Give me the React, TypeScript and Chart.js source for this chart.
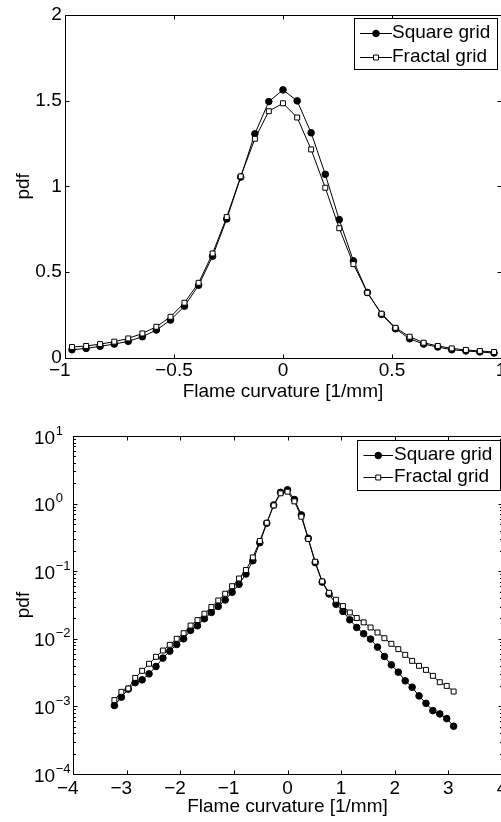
import React, { useEffect, useRef } from 'react';
import { Chart, registerables } from 'chart.js';

Chart.register(...registerables);

// ---------- data ----------
const seriesNames = ['Square grid', 'Fractal grid'];

const topCurvature = [-0.968, -0.903, -0.839, -0.774, -0.71, -0.645, -0.581, -0.516, -0.452, -0.387, -0.323, -0.258, -0.194, -0.129, -0.065, 0, 0.065, 0.129, 0.194, 0.258, 0.323, 0.387, 0.452, 0.516, 0.581, 0.645, 0.71, 0.774, 0.839, 0.903, 0.968];
const topSquare = [0.048, 0.056, 0.068, 0.081, 0.097, 0.124, 0.163, 0.221, 0.302, 0.424, 0.593, 0.81, 1.054, 1.306, 1.494, 1.562, 1.498, 1.312, 1.07, 0.806, 0.566, 0.382, 0.254, 0.17, 0.112, 0.081, 0.064, 0.048, 0.041, 0.035, 0.029];
const topFractal = [0.064, 0.07, 0.081, 0.095, 0.114, 0.143, 0.182, 0.24, 0.322, 0.438, 0.609, 0.821, 1.058, 1.277, 1.438, 1.484, 1.401, 1.215, 0.992, 0.756, 0.547, 0.38, 0.258, 0.176, 0.124, 0.089, 0.07, 0.056, 0.047, 0.041, 0.035];

const logCurvature = [-3.228, -3.098, -2.969, -2.84, -2.711, -2.582, -2.453, -2.324, -2.195, -2.066, -1.937, -1.807, -1.678, -1.549, -1.42, -1.291, -1.162, -1.033, -0.904, -0.775, -0.646, -0.516, -0.387, -0.258, -0.129, 0, 0.129, 0.258, 0.387, 0.516, 0.646, 0.775, 0.904, 1.033, 1.162, 1.291, 1.42, 1.549, 1.678, 1.807, 1.937, 2.066, 2.195, 2.324, 2.453, 2.582, 2.711, 2.84, 2.969, 3.098];
const logSquare = [1.03e-3, 1.37e-3, 1.8e-3, 2.25e-3, 2.47e-3, 3.03e-3, 3.89e-3, 5.18e-3, 6.57e-3, 8.24e-3, 1.0e-2, 1.33e-2, 1.56e-2, 1.98e-2, 2.45e-2, 3.01e-2, 3.75e-2, 4.88e-2, 6.4e-2, 9.1e-2, 0.143, 0.264, 0.511, 0.955, 1.47, 1.6, 1.15, 0.68, 0.306, 0.134, 6.9e-2, 4.6e-2, 3.25e-2, 2.54e-2, 1.91e-2, 1.47e-2, 1.19e-2, 9.9e-3, 7.54e-3, 5.47e-3, 4.12e-3, 3.21e-3, 2.39e-3, 1.92e-3, 1.43e-3, 1.11e-3, 8.66e-4, 7.74e-4, 6.6e-4, 5.09e-4];
const logFractal = [1.24e-3, 1.64e-3, 1.84e-3, 2.64e-3, 3.36e-3, 4.27e-3, 5.41e-3, 6.71e-3, 8.15e-3, 1.0e-2, 1.21e-2, 1.57e-2, 1.89e-2, 2.35e-2, 2.95e-2, 3.69e-2, 4.64e-2, 6.0e-2, 7.8e-2, 0.104, 0.16, 0.28, 0.52, 0.94, 1.42, 1.5, 1.08, 0.64, 0.3, 0.138, 7.06e-2, 4.8e-2, 3.78e-2, 3.05e-2, 2.45e-2, 2.03e-2, 1.75e-2, 1.47e-2, 1.24e-2, 1.02e-2, 8.43e-3, 7.03e-3, 5.79e-3, 4.72e-3, 3.98e-3, 3.47e-3, 2.83e-3, 2.28e-3, 2.01e-3, 1.66e-3];

const topXTicks = [-1, -0.5, 0, 0.5, 1];
const topYTicks = [0, 0.5, 1, 1.5, 2];
const logXTicks = [-4, -3, -2, -1, 0, 1, 2, 3, 4];
const logYExponents = [-4, -3, -2, -1, 0, 1];

const xTitle = 'Flame curvature [1/mm]';
const yTitle = 'pdf';

// ---------- helpers ----------
const FONT = "'Liberation Sans', Arial, Helvetica, sans-serif";

const fmtTick = (v: number) => {
  const s = String(Math.round(v * 1000) / 1000);
  if (v < 0) {
    const body = '\u2212' + s.slice(1);
    return Number.isInteger(v) ? body + '  ' : body;
  }
  return s;
};

const pts = (xs: number[], ys: number[]) => xs.map((x, i) => ({ x, y: ys[i] }));

const boxPlugin = {
  id: 'matlabBox',
  afterDatasetsDraw(chart: any, _args: any, opts: any) {
    const { ctx, chartArea: a, scales } = chart;
    const xs = scales.x;
    const ys = scales.y;
    const major = opts.major ?? 4;
    const minor = opts.minor ?? 2.5;
    const L = Math.round(a.left) + 0.5;
    const R = Math.round(a.right) + 0.5;
    const T = Math.round(a.top) + 0.5;
    const B = Math.round(a.bottom) + 0.5;
    ctx.save();
    ctx.strokeStyle = '#000';
    ctx.lineWidth = 1;
    ctx.strokeRect(L, T, R - L, B - T);
    ctx.beginPath();
    for (const t of xs.ticks) {
      const p = Math.round(xs.getPixelForValue(t.value)) + 0.5;
      ctx.moveTo(p, B); ctx.lineTo(p, B - major);
      ctx.moveTo(p, T); ctx.lineTo(p, T + major);
    }
    for (const t of ys.ticks) {
      const p = Math.round(ys.getPixelForValue(t.value)) + 0.5;
      ctx.moveTo(L, p); ctx.lineTo(L + major, p);
      ctx.moveTo(R, p); ctx.lineTo(R - major, p);
    }
    if (opts.logMinor) {
      for (let d = -4; d < 1; d++) {
        for (let m = 2; m <= 9; m++) {
          const p = Math.round(ys.getPixelForValue(m * Math.pow(10, d))) + 0.5;
          ctx.moveTo(L, p); ctx.lineTo(L + minor, p);
          ctx.moveTo(R, p); ctx.lineTo(R - minor, p);
        }
      }
    }
    ctx.stroke();
    ctx.restore();
  },
};

const legendPlugin = {
  id: 'matlabLegend',
  afterDraw(chart: any, _args: any, o: any) {
    const ctx = chart.ctx;
    ctx.save();
    ctx.fillStyle = '#fff';
    ctx.fillRect(o.x, o.y, o.w, o.h);
    ctx.strokeStyle = '#000';
    ctx.lineWidth = 1;
    ctx.strokeRect(Math.round(o.x) + 0.5, Math.round(o.y) + 0.5, Math.round(o.w), Math.round(o.h));
    chart.data.datasets.forEach((ds: any, i: number) => {
      const yy = o.rows[i];
      ctx.beginPath();
      ctx.moveTo(o.lineX0, Math.round(yy) + 0.5);
      ctx.lineTo(o.lineX1, Math.round(yy) + 0.5);
      ctx.stroke();
      const cx = (o.lineX0 + o.lineX1) / 2;
      ctx.fillStyle = ds.pointBackgroundColor;
      ctx.beginPath();
      if (ds.pointStyle === 'rect') {
        const s = ds.pointRadius * Math.SQRT1_2;
        ctx.rect(cx - s, Math.round(yy) + 0.5 - s, 2 * s, 2 * s);
      } else {
        ctx.arc(cx, Math.round(yy) + 0.5, ds.pointRadius, 0, Math.PI * 2);
      }
      ctx.fill();
      ctx.stroke();
      ctx.fillStyle = '#000';
      ctx.font = `19px ${FONT}`;
      ctx.textAlign = 'left';
      ctx.textBaseline = 'middle';
      ctx.fillText(ds.label, o.textX, yy);
    });
    ctx.restore();
  },
};

const logLabelPlugin = {
  id: 'logLabels',
  afterDraw(chart: any, _args: any, o: any) {
    const ys = chart.scales.y;
    const ctx = chart.ctx;
    ctx.save();
    ctx.fillStyle = '#000';
    ctx.textAlign = 'left';
    ctx.textBaseline = 'alphabetic';
    for (const e of logYExponents) {
      const p = ys.getPixelForValue(Math.pow(10, e));
      ctx.font = `19px ${FONT}`;
      ctx.fillText('10', o.x, p + 7.5);
      const w = ctx.measureText('10').width;
      ctx.font = `13px ${FONT}`;
      ctx.fillText(e < 0 ? '\u2212' + String(-e) : String(e), o.x + w + 0.5, p - 1.5);
    }
    ctx.restore();
  },
};

const datasetStyles = (data1: any[], data2: any[]) => [
  {
    label: seriesNames[0],
    data: data1,
    borderColor: '#000',
    borderWidth: 1,
    pointStyle: 'circle',
    pointRadius: 3.3,
    pointBackgroundColor: '#000',
    pointBorderColor: '#000',
    pointBorderWidth: 1,
    tension: 0,
    order: 1,
  },
  {
    label: seriesNames[1],
    data: data2,
    borderColor: '#000',
    borderWidth: 1,
    pointStyle: 'rect',
    pointRadius: 3.5,
    pointBackgroundColor: '#fff',
    pointBorderColor: '#000',
    pointBorderWidth: 1,
    tension: 0,
    order: 0,
  },
];

const commonScale = {
  grid: { display: false, drawTicks: false, tickLength: 0 },
  border: { display: false },
};

const topConfig = (): any => ({
  type: 'line',
  data: { datasets: datasetStyles(pts(topCurvature, topSquare), pts(topCurvature, topFractal)) },
  options: {
    animation: false,
    responsive: false,
    devicePixelRatio: 1,
    layout: { padding: { left: 0, top: 14, right: 59, bottom: 0 } },
    plugins: {
      legend: { display: false },
      tooltip: { enabled: false },
      matlabBox: { major: 4 },
      matlabLegend: { x: 354, y: 18, w: 143, h: 51, lineX0: 360, lineX1: 392, textX: 392, rows: [32.5, 56.5] },
    },
    scales: {
      x: {
        ...commonScale,
        type: 'linear',
        min: -1,
        max: 1,
        afterBuildTicks: (s: any) => { s.ticks = topXTicks.map((value) => ({ value })); },
        afterFit: (s: any) => { s.height = 47; },
        ticks: { color: '#000', padding: 1.6, autoSkip: false, maxRotation: 0, font: { family: FONT, size: 19 }, callback: (v: any) => fmtTick(Number(v)) },
        title: { display: true, text: xTitle, color: '#000', font: { family: FONT, size: 19 }, padding: { top: 0, bottom: 1.9 } },
      },
      y: {
        ...commonScale,
        type: 'linear',
        min: 0,
        max: 2,
        afterBuildTicks: (s: any) => { s.ticks = topYTicks.map((value) => ({ value })); },
        afterFit: (s: any) => { s.width = 65; },
        ticks: { color: '#000', padding: 3.3, autoSkip: false, font: { family: FONT, size: 19 }, callback: (v: any) => fmtTick(Number(v)) },
        title: { display: true, text: yTitle, color: '#000', font: { family: FONT, size: 19 }, padding: { top: 12, bottom: 0 } },
      },
    },
  },
  plugins: [boxPlugin, legendPlugin],
});

const bottomConfig = (): any => ({
  type: 'line',
  data: { datasets: datasetStyles(pts(logCurvature, logSquare), pts(logCurvature, logFractal)) },
  options: {
    animation: false,
    responsive: false,
    devicePixelRatio: 1,
    layout: { padding: { left: 0, top: 26, right: 58, bottom: 0 } },
    plugins: {
      legend: { display: false },
      tooltip: { enabled: false },
      matlabBox: { major: 4, minor: 2.5, logMinor: true },
      matlabLegend: { x: 357, y: 30, w: 143, h: 50, lineX0: 363.5, lineX1: 393, textX: 394, rows: [45, 67] },
      logLabels: { x: 34 },
    },
    scales: {
      x: {
        ...commonScale,
        type: 'linear',
        min: -4,
        max: 4,
        afterBuildTicks: (s: any) => { s.ticks = logXTicks.map((value) => ({ value })); },
        afterFit: (s: any) => { s.height = 48; },
        ticks: { color: '#000', padding: 3.6, autoSkip: false, maxRotation: 0, font: { family: FONT, size: 19 }, callback: (v: any) => fmtTick(Number(v)) },
        title: { display: true, text: xTitle, color: '#000', font: { family: FONT, size: 19 }, padding: { top: 0, bottom: 3.4 } },
      },
      y: {
        ...commonScale,
        type: 'logarithmic',
        min: 1e-4,
        max: 10,
        afterBuildTicks: (s: any) => { s.ticks = logYExponents.map((e) => ({ value: Math.pow(10, e) })); },
        afterFit: (s: any) => { s.width = 73; },
        ticks: { display: false },
        title: { display: true, text: yTitle, color: '#000', font: { family: FONT, size: 19 }, padding: { top: 12.5, bottom: 0 } },
      },
    },
  },
  plugins: [boxPlugin, legendPlugin, logLabelPlugin],
});

function ChartCanvas({ makeConfig, width, height, top }: { makeConfig: () => any; width: number; height: number; top: number }) {
  const ref = useRef<HTMLCanvasElement>(null);
  useEffect(() => {
    const chart = new Chart(ref.current as HTMLCanvasElement, makeConfig());
    return () => chart.destroy();
  }, []);
  return (
    <canvas
      ref={ref}
      width={width}
      height={height}
      style={{ position: 'absolute', left: 0, top, width, height, display: 'block' }}
    />
  );
}

export default function App() {
  return (
    <div style={{ position: 'absolute', left: 0, top: 0, width: 501, height: 822, overflow: 'hidden', background: '#fff' }}>
      <ChartCanvas makeConfig={topConfig} width={560} height={405} top={0} />
      <ChartCanvas makeConfig={bottomConfig} width={560} height={412} top={410} />
    </div>
  );
}
